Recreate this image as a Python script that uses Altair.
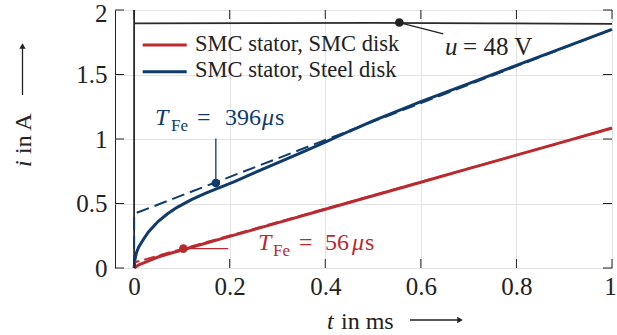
import altair as alt
import pandas as pd

# ---------------- data ----------------
t_smc = [0, 0.01, 0.02, 0.05, 0.1, 0.2, 0.3, 0.4, 0.5, 0.6, 0.7, 0.8, 0.9, 1.0]
i_smc = [0, 0.025, 0.04, 0.085, 0.14, 0.245, 0.35, 0.455, 0.56, 0.665, 0.77, 0.875, 0.98, 1.085]

t_steel = [0, 0.002, 0.005, 0.01, 0.02, 0.03, 0.05, 0.07, 0.09, 0.12, 0.15, 0.18,
           0.21, 0.25, 0.3, 0.35, 0.4, 0.45, 0.5, 0.6, 0.7, 0.8, 0.9, 1.0]
i_steel = [0, 0.07, 0.12, 0.165, 0.225, 0.28, 0.36, 0.42, 0.47, 0.53, 0.58, 0.625,
           0.67, 0.735, 0.815, 0.895, 0.975, 1.06, 1.14, 1.29, 1.43, 1.57, 1.71, 1.85]

t_fit_smc = [0, 0, 1.0]
i_fit_smc = [0, 0.043, 1.083]
t_fit_steel = [0, 0, 1.0]
i_fit_steel = [0, 0.42, 1.85]

t_u = [0, 0, 0, 0.003, 0.25, 0.5, 0.75, 1.0]
u_scaled = [0, 2.0, 1.9, 1.897, 1.898, 1.9, 1.897, 1.893]

x_ticks = [0, 0.2, 0.4, 0.6, 0.8, 1]
y_ticks = [0, 0.5, 1, 1.5, 2]
legend_labels = ["SMC stator, SMC disk", "SMC stator, Steel disk"]

# annotation markers (t in ms, i in A)
mark_steel = [0.171, 0.659]
mark_smc = [0.103, 0.150]
mark_u = [0.555, 1.903]
leader_steel_end = [0.171, 1.003]
leader_smc_end = [0.197, 0.150]
leader_u_end = [0.647, 1.814]
label_steel_at = [0.0437, 1.109]
label_smc_at = [0.2593, 0.1395]
label_u_at = [0.6506, 1.651]
tfe_steel_text = "396"
tfe_smc_text = "56"
u_text = "= 48 V"

# ---------------- style ----------------
W, H = 497, 258
FONT = "Liberation Serif"
RED = "#bb2a2f"
BLUE = "#0f3b6c"
BLACK = "#222222"
FS = 24

xs = alt.Scale(domain=[-0.04, 1], nice=False, zero=False)
ys = alt.Scale(domain=[0, 2], nice=False, zero=False)
xaxis = alt.Axis(values=x_ticks, format="~g", title=None, labelFont=FONT, labelFontSize=25,
                 labelColor=BLACK, tickSize=0, labelPadding=6, domain=False, grid=True,
                 gridColor="#e3e3e3", gridWidth=1, labelFlush=False,
                 labelOffset={"condition": {"test": "datum.value == 1", "value": -2}, "value": 0})
yaxis = alt.Axis(values=y_ticks, format="~g", title=None, labelFont=FONT, labelFontSize=25,
                 labelColor=BLACK, tickSize=0, labelPadding=8, domain=False, grid=True,
                 gridColor="#e3e3e3", gridWidth=1, labelFlush=False,
                 labelOffset={"condition": {"test": "datum.value == 2", "value": 3}, "value": 0})


def X(f="t"):
    return alt.X(f"{f}:Q", scale=xs, axis=xaxis)


def Y(f="i"):
    return alt.Y(f"{f}:Q", scale=ys, axis=yaxis)


def df_line(ts, vs):
    return pd.DataFrame({"t": ts, "i": vs, "k": list(range(len(ts)))})


def line(ts, vs, color, width, dash=None):
    kw = dict(color=color, strokeWidth=width)
    if dash:
        kw["strokeDash"] = dash
    return alt.Chart(df_line(ts, vs)).mark_line(**kw).encode(x=X(), y=Y(), order=alt.Order("k:Q"))


layers = []
# voltage
layers.append(line(t_u, u_scaled, "#2a2a2a", 1.8))
# measured currents
layers.append(line(t_smc, i_smc, RED, 3))
layers.append(line(t_steel, i_steel, BLUE, 3))
# fitted asymptotes (dashed)
layers.append(line(t_fit_smc, i_fit_smc, RED, 2, [11, 5]))
layers.append(line(t_fit_steel, i_fit_steel, BLUE, 2, [13, 6]))


def seg(p0, p1, color, width=1.3):
    d = pd.DataFrame({"t": [p0[0]], "i": [p0[1]], "t2": [p1[0]], "i2": [p1[1]]})
    return alt.Chart(d).mark_rule(color=color, strokeWidth=width).encode(
        x=X(), y=Y(), x2="t2:Q", y2="i2:Q")


layers.append(seg(mark_steel, leader_steel_end, BLUE))
layers.append(seg(mark_smc, leader_smc_end, RED))
layers.append(seg(mark_u, leader_u_end, BLACK))


def dot(p, color):
    d = pd.DataFrame({"t": [p[0]], "i": [p[1]]})
    return alt.Chart(d).mark_point(filled=True, color=color, size=75, opacity=1).encode(x=X(), y=Y())


layers.append(dot(mark_steel, BLUE))
layers.append(dot(mark_smc, RED))
layers.append(dot(mark_u, BLACK))

# inward ticks
xt = pd.DataFrame({"t": x_ticks})
yt = pd.DataFrame({"i": y_ticks})
TK = 9
layers.append(alt.Chart(xt).mark_rule(color=BLACK, strokeWidth=1).encode(
    x=X(), y=alt.value(H), y2=alt.value(H - TK)))
layers.append(alt.Chart(xt).mark_rule(color=BLACK, strokeWidth=1).encode(
    x=X(), y=alt.value(0), y2=alt.value(TK)))
layers.append(alt.Chart(yt).mark_rule(color=BLACK, strokeWidth=1).encode(
    y=Y(), x=alt.value(0), x2=alt.value(TK)))
layers.append(alt.Chart(yt).mark_rule(color=BLACK, strokeWidth=1).encode(
    y=Y(), x=alt.value(W), x2=alt.value(W - TK)))


# annotation text pieces anchored at data positions
def piece(at, text, color, dx, dy=0, size=FS, italic=False):
    d = pd.DataFrame({"t": [at[0]], "i": [at[1]]})
    kw = dict(text=text, font=FONT, fontSize=size, color=color, align="left",
              baseline="alphabetic", dx=dx, dy=dy)
    if italic:
        kw["fontStyle"] = "italic"
    return alt.Chart(d).mark_text(**kw).encode(x=X(), y=Y())


for at, num, col, offs in [
    (label_steel_at, tfe_steel_text, BLUE, [0, 16, 42, 70, 107, 120]),
    (label_smc_at, tfe_smc_text, RED, [0, 15, 41, 67, 94, 107]),
]:
    layers.append(piece(at, "T", col, offs[0], italic=True))
    layers.append(piece(at, "Fe", col, offs[1], dy=6, size=17))
    layers.append(piece(at, "=", col, offs[2]))
    layers.append(piece(at, num, col, offs[3]))
    layers.append(piece(at, "\u03bc", col, offs[4], italic=True))
    layers.append(piece(at, "s", col, offs[5]))

layers.append(piece(label_u_at, "u", BLACK, 0, italic=True, size=25))
layers.append(piece(label_u_at, u_text, BLACK, 18, size=25))

# legend (layout in pixels)
one = pd.DataFrame({"a": [0]})
for k, (lab, col) in enumerate(zip(legend_labels, [RED, BLUE])):
    yy = 35 + 26.7 * k
    layers.append(alt.Chart(one).mark_rule(color=col, strokeWidth=3).encode(
        x=alt.value(27.7), x2=alt.value(71.7), y=alt.value(yy)))
    layers.append(alt.Chart(one).mark_text(text=lab, font=FONT, fontSize=22.5, color=BLACK,
                                           align="left", baseline="alphabetic").encode(
        x=alt.value(80), y=alt.value(yy + 5.7)))


# axis titles with arrows
def txt(text, x, y, italic=False, angle=None):
    kw = dict(text=text, font=FONT, fontSize=FS, color=BLACK, align="left", baseline="alphabetic")
    if italic:
        kw["fontStyle"] = "italic"
    if angle is not None:
        kw["angle"] = angle
    return alt.Chart(one).mark_text(**kw).encode(x=alt.value(x), y=alt.value(y))


layers.append(txt("i", -84, 157, italic=True, angle=270))
layers.append(txt("in A", -84, 144, angle=270))
layers.append(alt.Chart(one).mark_rule(color=BLACK, strokeWidth=1.3).encode(
    x=alt.value(-92.5), y=alt.value(85), y2=alt.value(38)))
layers.append(alt.Chart(one).mark_point(shape="triangle-up", filled=True, color=BLACK, size=40,
                                        opacity=1).encode(x=alt.value(-92.5), y=alt.value(36)))

layers.append(txt("t", 212, 319, italic=True))
layers.append(txt("in ms", 226, 319))
layers.append(alt.Chart(one).mark_rule(color=BLACK, strokeWidth=1.3).encode(
    x=alt.value(295), x2=alt.value(343), y=alt.value(310)))
layers.append(alt.Chart(one).mark_point(shape="triangle-right", filled=True, color=BLACK, size=40,
                                        opacity=1).encode(x=alt.value(345), y=alt.value(310)))

chart = alt.layer(*layers).properties(
    width=W, height=H,
    autosize=alt.AutoSizeParams(type="none"),
    padding={"left": 115, "top": 10, "right": 5, "bottom": 67},
    background="white",
).configure_view(stroke=BLACK, strokeWidth=1)

chart.save("out.html", embed_options={"renderer": "svg", "actions": False})
